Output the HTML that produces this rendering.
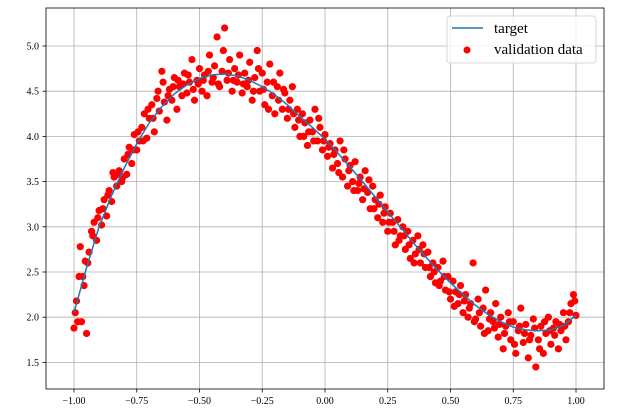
<!DOCTYPE html>
<html><head><meta charset="utf-8"><style>
body{margin:0;background:#fff;}
svg text{font-family:"Liberation Serif",serif;fill:#000;}
</style></head><body>
<svg id="chart" width="629" height="414" xmlns="http://www.w3.org/2000/svg">
<g id="grid"></g>
<g id="ticks"></g>
<g id="series"></g>
<rect x="46" y="8" width="558" height="381" fill="none" stroke="#000" stroke-width="0.8"/>
<g>
<rect x="447" y="16" width="149" height="47" rx="3" fill="#fff" fill-opacity="0.8" stroke="#ccc" stroke-width="0.8"/>
<line x1="452" y1="28" x2="483" y2="28" stroke="#1f77b4" stroke-width="1.5"/>
<text x="494" y="33" font-size="15">target</text>
<circle cx="467" cy="50" r="3.5" fill="red"/>
<text x="494" y="54" font-size="15">validation data</text>
</g>
</svg>
<script>
const xTicks=[-1.00,-0.75,-0.50,-0.25,0.00,0.25,0.50,0.75,1.00];
const yTicks=[1.5,2.0,2.5,3.0,3.5,4.0,4.5,5.0];
const targetX=[-1,-0.95,-0.9,-0.85,-0.8,-0.75,-0.7,-0.65,-0.6,-0.55,-0.5,-0.45,-0.4,-0.35,-0.3,-0.25,-0.2,-0.15,-0.1,-0.05,0,0.05,0.1,0.15,0.2,0.25,0.3,0.35,0.4,0.45,0.5,0.55,0.6,0.65,0.7,0.75,0.8,0.85,0.9,0.95,1];
const targetY=[2.05,2.55,3.0,3.35,3.65,3.92,4.15,4.33,4.47,4.57,4.64,4.68,4.69,4.67,4.62,4.55,4.46,4.35,4.22,4.1,3.97,3.82,3.66,3.5,3.33,3.16,3.0,2.83,2.67,2.52,2.38,2.25,2.13,2.03,1.95,1.89,1.86,1.85,1.86,1.91,2.02];
const dataX=[-1.00,-0.99,-0.98,-0.975,-0.97,-0.96,-0.955,-0.95,-0.94,-0.93,-0.92,-0.91,-0.90,-0.89,-0.88,-0.87,-0.86,-0.85,-0.84,-0.83,-0.82,-0.81,-0.80,-0.79,-0.78,-0.77,-0.76,-0.75,-0.74,-0.73,-0.72,-0.71,-0.70,-0.69,-0.68,-0.67,-0.66,-0.65,-0.64,-0.63,-0.62,-0.61,-0.60,-0.59,-0.58,-0.57,-0.56,-0.55,-0.54,-0.53,-0.52,-0.51,-0.50,-0.49,-0.48,-0.47,-0.46,-0.45,-0.44,-0.43,-0.42,-0.41,-0.40,-0.39,-0.38,-0.37,-0.36,-0.35,-0.34,-0.33,-0.32,-0.31,-0.30,-0.29,-0.28,-0.27,-0.26,-0.25,-0.24,-0.23,-0.22,-0.21,-0.20,-0.19,-0.18,-0.17,-0.16,-0.15,-0.14,-0.13,-0.12,-0.11,-0.10,-0.09,-0.08,-0.07,-0.06,-0.05,-0.04,-0.03,-0.02,-0.01,0.00,0.01,0.02,0.03,0.04,0.05,0.06,0.07,0.08,0.09,0.10,0.11,0.12,0.13,0.14,0.15,0.16,0.17,0.18,0.19,0.20,0.21,0.22,0.23,0.24,0.25,0.26,0.27,0.28,0.29,0.30,0.31,0.32,0.33,0.34,0.35,0.36,0.37,0.38,0.39,0.40,0.41,0.42,0.43,0.44,0.45,0.46,0.47,0.48,0.49,0.50,0.51,0.52,0.53,0.54,0.55,0.56,0.57,0.58,0.59,0.60,0.61,0.62,0.63,0.64,0.65,0.66,0.67,0.68,0.69,0.70,0.71,0.72,0.73,0.74,0.75,0.76,0.77,0.78,0.79,0.80,0.81,0.82,0.83,0.84,0.85,0.86,0.87,0.88,0.89,0.90,0.91,0.92,0.93,0.94,0.95,0.96,0.97,0.98,0.99,1.00,
-0.995,-0.985,-0.965,-0.945,-0.925,-0.905,-0.885,-0.865,-0.845,-0.825,-0.805,-0.785,-0.765,-0.745,-0.725,-0.705,-0.685,-0.665,-0.645,-0.625,-0.605,-0.585,-0.565,-0.545,-0.525,-0.505,-0.485,-0.465,-0.445,-0.425,-0.405,-0.385,-0.365,-0.345,-0.325,-0.305,-0.285,-0.265,-0.245,-0.225,-0.205,-0.185,-0.165,-0.145,-0.125,-0.105,-0.085,-0.065,-0.045,-0.025,-0.005,0.015,0.035,0.055,0.075,0.095,0.115,0.135,0.155,0.175,0.195,0.215,0.235,0.255,0.275,0.295,0.315,0.335,0.355,0.375,0.395,0.415,0.435,0.455,0.475,0.495,0.515,0.535,0.555,0.575,0.595,0.615,0.635,0.655,0.675,0.695,0.715,0.735,0.755,0.775,0.795,0.815,0.835,0.855,0.875,0.895,0.915,0.935,0.955,0.975,0.995];
const dataY=[1.88,2.18,2.45,2.78,1.95,2.35,2.62,1.82,2.72,2.95,3.05,2.85,3.18,3.02,3.30,3.12,3.40,3.28,3.55,3.45,3.62,3.50,3.75,3.58,3.88,3.70,4.02,3.85,3.95,4.10,4.25,3.98,4.20,4.35,4.05,4.42,4.28,4.72,4.38,4.18,4.52,4.40,4.65,4.30,4.55,4.45,4.70,4.48,4.60,4.85,4.40,4.62,4.75,4.50,4.68,4.45,4.90,4.60,4.78,5.10,4.55,4.72,5.20,4.62,4.85,4.50,4.75,4.60,4.90,4.48,4.70,4.55,4.82,4.40,4.65,4.95,4.50,4.70,4.35,4.60,4.80,4.45,4.25,4.55,4.70,4.30,4.48,4.20,4.40,4.55,4.10,4.30,4.00,4.25,4.15,3.90,4.18,4.05,4.30,3.95,4.10,3.85,4.02,3.78,3.92,3.65,3.85,3.70,3.95,3.55,3.75,3.45,3.68,3.50,3.72,3.40,3.55,3.30,3.62,3.38,3.20,3.45,3.30,3.10,3.35,3.05,3.22,2.95,3.15,3.05,2.80,3.08,2.90,3.00,2.75,2.95,2.65,2.85,2.70,2.90,2.60,2.80,2.55,2.72,2.45,2.60,2.38,2.55,2.40,2.62,2.30,2.45,2.20,2.40,2.28,2.15,2.35,2.05,2.25,2.00,2.15,2.60,1.98,2.20,1.90,2.10,2.30,1.85,2.05,1.95,2.15,1.78,2.00,1.65,1.90,2.05,1.75,1.95,1.60,1.85,2.10,1.72,1.92,1.55,1.80,1.98,1.45,1.75,1.90,1.60,1.82,2.00,1.70,1.88,1.95,1.65,1.85,2.05,1.75,1.95,2.15,2.25,2.02,
2.05,1.95,2.45,2.60,2.90,3.10,3.20,3.35,3.60,3.58,3.55,3.80,3.85,4.05,3.95,4.30,4.20,4.50,4.60,4.45,4.55,4.62,4.58,4.68,4.52,4.58,4.62,4.72,4.65,4.58,4.95,4.70,4.62,4.68,4.58,4.62,4.50,4.75,4.52,4.30,4.60,4.40,4.52,4.30,4.25,4.18,4.00,4.05,3.95,4.20,3.95,3.88,3.80,3.60,3.85,3.62,3.40,3.48,3.42,3.52,3.20,3.25,3.15,3.05,2.95,2.85,2.90,2.80,2.60,2.75,2.70,2.55,2.50,2.35,2.45,2.28,2.12,2.25,2.18,2.10,1.95,2.05,1.82,1.98,1.88,1.92,1.82,1.95,1.70,1.90,1.82,1.75,1.88,1.65,1.95,1.85,1.80,1.92,1.90,2.05,2.18];
const NS="http://www.w3.org/2000/svg";
const L=46,R=604,T=8,B=389;
function sx(v){return 325+251*v;}
function sy(v){return 46+(5-v)*90.4;}
function mk(tag,attrs,parent){const e=document.createElementNS(NS,tag);for(const k in attrs)e.setAttribute(k,attrs[k]);parent.appendChild(e);return e;}
const grid=document.getElementById('grid'),ticks=document.getElementById('ticks'),series=document.getElementById('series');
xTicks.forEach(t=>{
  const x=sx(t);
  const g=mk('line',{x1:x,x2:x,y1:T,y2:B,stroke:'#b0b0b0','stroke-width':0.8},grid);
  
  
  const tk=mk('line',{x1:x,x2:x,y1:B,y2:B+3.5,stroke:'#000','stroke-width':0.8},ticks);
  
  
  const tx=mk('text',{x:x,y:B+15,'font-size':10,'text-anchor':'middle'},ticks);
  tx.textContent=(t<0?'\u2212':'')+Math.abs(t).toFixed(2);
  
  
});
yTicks.forEach(t=>{
  const y=sy(t);
  const g=mk('line',{x1:L,x2:R,y1:y,y2:y,stroke:'#b0b0b0','stroke-width':0.8},grid);
  
  
  const tk=mk('line',{x1:L-3.5,x2:L,y1:y,y2:y,stroke:'#000','stroke-width':0.8},ticks);
  
  
  const tx=mk('text',{x:L-7,y:y+3.5,'font-size':10,'text-anchor':'end'},ticks);
  tx.textContent=t.toFixed(1);
  
  
});
dataX.forEach((x,i)=>{
  const c=mk('circle',{cx:sx(x),cy:sy(dataY[i]),r:3.6,fill:'red'},series);
  
  
});
const pts=targetX.map((x,i)=>sx(x).toFixed(1)+','+sy(targetY[i]).toFixed(1)).join(' ');
const line=mk('polyline',{points:pts,fill:'none',stroke:'#1f77b4','stroke-width':1.5},series);


</script>
</body></html>
